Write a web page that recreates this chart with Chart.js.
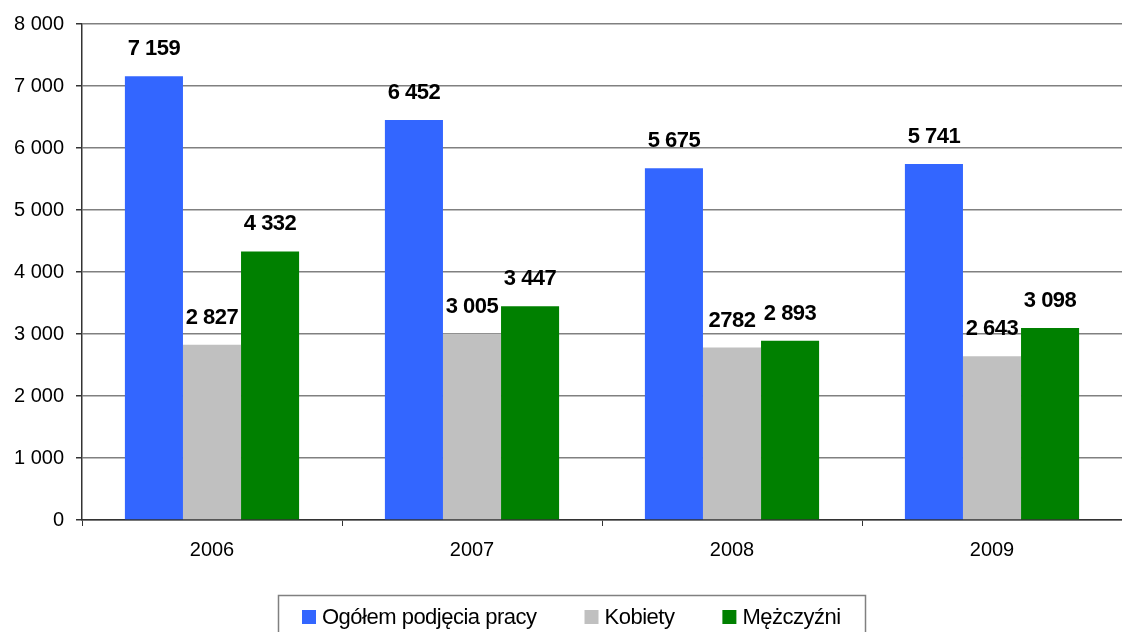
<!DOCTYPE html>
<html>
<head>
<meta charset="utf-8">
<script src="https://cdn.jsdelivr.net/npm/chart.js@4/dist/chart.umd.min.js"></script>
<style>
  html, body { margin: 0; padding: 0; background: #ffffff; }
  #wrap { width: 1122px; height: 632px; position: relative; }
</style>
</head>
<body>
<div id="wrap"><canvas id="chart"></canvas></div>
<script>
const years = ['2006', '2007', '2008', '2009'];
const seriesNames = ['Ogółem podjęcia pracy', 'Kobiety', 'Mężczyźni'];

const totalValues = [7159, 6452, 5675, 5741];
const womenValues = [2827, 3005, 2782, 2643];
const menValues = [4332, 3447, 2893, 3098];

// texts printed above the bars (one of them has no thousands space in the original)
const totalLabels = ['7 159', '6 452', '5 675', '5 741'];
const womenLabels = ['2 827', '3 005', '2782', '2 643'];
const menLabels = ['4 332', '3 447', '2 893', '3 098'];

const yTicks = [0, 1000, 2000, 3000, 4000, 5000, 6000, 7000, 8000];

const FONT = '"Liberation Sans", Arial, sans-serif';
const colors = ['#3366FF', '#C0C0C0', '#008000'];

const formatThousands = (value) => value.toString().replace(/\B(?=(\d{3})+(?!\d))/g, ' ');

const valueLabelsPlugin = {
  id: 'valueLabels',
  afterDatasetsDraw(chart) {
    const ctx = chart.ctx;
    ctx.save();
    ctx.font = 'bold 22px ' + FONT;
    ctx.letterSpacing = '-0.5px';
    ctx.fillStyle = '#000000';
    ctx.textAlign = 'center';
    ctx.textBaseline = 'middle';
    chart.data.datasets.forEach((dataset, i) => {
      const meta = chart.getDatasetMeta(i);
      meta.data.forEach((bar, j) => {
        ctx.fillText(dataset.valueLabels[j], bar.x, bar.y - 27);
      });
    });
    ctx.restore();
  }
};

// legend drawn by hand so the framed box sits like in the original
const boxedLegendPlugin = {
  id: 'boxedLegend',
  afterDraw(chart) {
    const ctx = chart.ctx;
    ctx.save();
    ctx.font = '22px ' + FONT;
    ctx.letterSpacing = '-0.5px';
    const square = 14;
    const gapText = 6;
    const gapItem = 48;
    const midY = 617;

    ctx.strokeStyle = '#808080';
    ctx.lineWidth = 1.5;
    ctx.strokeRect(278.5, 595.5, 587, 45);

    let x = 302;
    chart.data.datasets.forEach((ds) => {
      ctx.fillStyle = ds.backgroundColor;
      ctx.fillRect(x, midY - 7, square, square);
      ctx.fillStyle = '#000000';
      ctx.textAlign = 'left';
      ctx.textBaseline = 'middle';
      ctx.fillText(ds.label, x + square + gapText, midY + 1);
      x += square + gapText + ctx.measureText(ds.label).width + gapItem;
    });
    ctx.restore();
  }
};

const data = {
  labels: years,
  datasets: [
    { label: seriesNames[0], data: totalValues, valueLabels: totalLabels, backgroundColor: colors[0] },
    { label: seriesNames[1], data: womenValues, valueLabels: womenLabels, backgroundColor: colors[1] },
    { label: seriesNames[2], data: menValues, valueLabels: menLabels, backgroundColor: colors[2] }
  ]
};

const config = {
  type: 'bar',
  data: data,
  options: {
    responsive: true,
    maintainAspectRatio: false,
    animation: false,
    datasets: {
      bar: {
        categoryPercentage: 0.67,
        barPercentage: 1.0,
        borderWidth: 0
      }
    },
    layout: {
      padding: { top: 24, right: 0, bottom: 0, left: 0 }
    },
    scales: {
      x: {
        offset: true,
        grid: {
          display: true,
          drawOnChartArea: false,
          drawTicks: true,
          tickLength: 6,
          color: '#333333',
          offset: true
        },
        border: { display: true, color: '#333333', width: 1.5 },
        ticks: {
          color: '#000000',
          padding: 12,
          font: { size: 20, family: FONT }
        },
        afterFit(scale) {
          scale.height = 112;
        }
      },
      y: {
        min: 0,
        max: 8000,
        afterBuildTicks(scale) {
          scale.ticks = yTicks.map(v => ({ value: v }));
        },
        grid: {
          color: '#808080',
          lineWidth: 1.5,
          tickLength: 6,
          tickColor: '#333333'
        },
        border: { display: true, color: '#333333', width: 1.5 },
        ticks: {
          color: '#000000',
          padding: 12,
          font: { size: 20, family: FONT },
          callback: function(value) {
            return formatThousands(value);
          }
        },
        afterFit(scale) {
          scale.width = 82;
        }
      }
    },
    plugins: {
      legend: { display: false },
      tooltip: { enabled: false }
    }
  },
  plugins: [valueLabelsPlugin, boxedLegendPlugin]
};

const myChart = new Chart(document.getElementById('chart').getContext('2d'), config);
</script>
</body>
</html>
